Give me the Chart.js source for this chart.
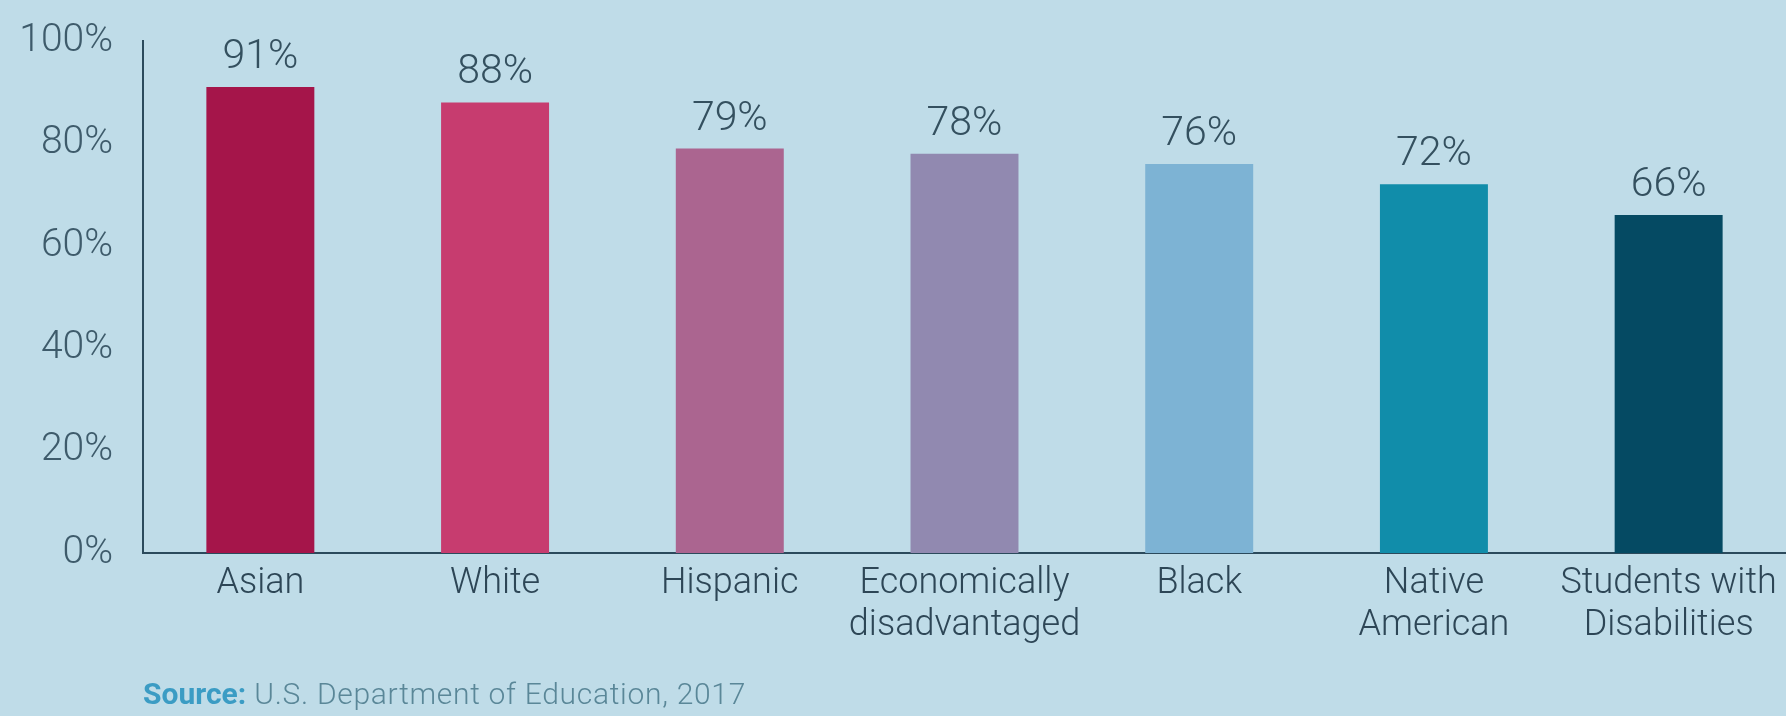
<!DOCTYPE html>
<html>
<head>
<meta charset="utf-8">
<script src="https://cdn.jsdelivr.net/npm/chart.js@4.4.1/dist/chart.umd.min.js"></script>
<style>
  html, body { margin: 0; padding: 0; background: #bfdce8; }
  #wrap { position: relative; width: 1786px; height: 716px; background: #bfdce8; overflow: hidden; }
  #c { position: absolute; left: 0; top: 0; }
  #source { position: absolute; left: 143px; top: 676px; line-height: 36px; font-family: Roboto, "Noto Sans", sans-serif; font-size: 30px; font-weight: 300; letter-spacing: 0.7px; color: #5a8798; white-space: nowrap; }
  #source b { color: #3b9cc4; font-weight: 700; letter-spacing: 0; }
</style>
</head>
<body>
<div id="wrap">
  <canvas id="c" width="1786" height="716"></canvas>
  <div id="source"><b>Source:</b> U.S. Department of Education, 2017</div>
</div>
<script>
// ---- data ----
const categories = [
  ["Asian"],
  ["White"],
  ["Hispanic"],
  ["Economically", "disadvantaged"],
  ["Black"],
  ["Native", "American"],
  ["Students with", "Disabilities"]
];
const rates = [91, 88, 79, 78, 76, 72, 66];
const yTickValues = [0, 20, 40, 60, 80, 100];

// ---- styles ----
const barColors = ["#a5154a", "#c73c6f", "#ab6590", "#9189b0", "#7db3d4", "#118daa", "#054a63"];
const FONT = "Roboto, 'Noto Sans', sans-serif";

const valueLabels = {
  id: "valueLabels",
  afterDatasetsDraw(chart) {
    const ctx = chart.ctx;
    const meta = chart.getDatasetMeta(0);
    ctx.save();
    ctx.font = "300 41px " + FONT;
    ctx.fillStyle = "#34505f";
    ctx.textAlign = "center";
    ctx.textBaseline = "alphabetic";
    meta.data.forEach((bar, i) => {
      ctx.fillText(rates[i] + "%", bar.x, bar.y - 19);
    });
    ctx.restore();
  }
};

new Chart(document.getElementById("c"), {
  type: "bar",
  data: {
    labels: categories,
    datasets: [{
      data: rates,
      backgroundColor: barColors,
      borderWidth: 0,
      barPercentage: 0.46,
      categoryPercentage: 1.0
    }]
  },
  options: {
    responsive: false,
    animation: false,
    devicePixelRatio: 1,
    layout: { padding: { top: 41, right: 0, bottom: 0, left: 0 } },
    plugins: { legend: { display: false }, tooltip: { enabled: false } },
    scales: {
      x: {
        grid: { display: false, drawTicks: false },
        border: { display: true, color: "#2b4a5c", width: 2 },
        ticks: {
          color: "#2d4656",
          font: { family: FONT, size: 36, weight: 300, lineHeight: 1.17 },
          padding: 10,
          maxRotation: 0,
          autoSkip: false
        },
        afterFit(scale) { scale.height = 716 - 553; scale.paddingLeft = 0; scale.paddingRight = 0; }
      },
      y: {
        min: 0,
        max: 100,
        afterBuildTicks(scale) { scale.ticks = yTickValues.map(v => ({ value: v })); },
        grid: { display: false, drawTicks: false },
        border: { display: true, color: "#2b4a5c", width: 2 },
        ticks: {
          color: "#3e5b6b",
          font: { family: FONT, size: 39, weight: 300 },
          padding: 30,
          callback: v => v + "%"
        },
        afterFit(scale) { scale.width = 143; scale.paddingTop = 0; scale.paddingBottom = 0; }
      }
    }
  },
  plugins: [valueLabels]
});
</script>
</body>
</html>
